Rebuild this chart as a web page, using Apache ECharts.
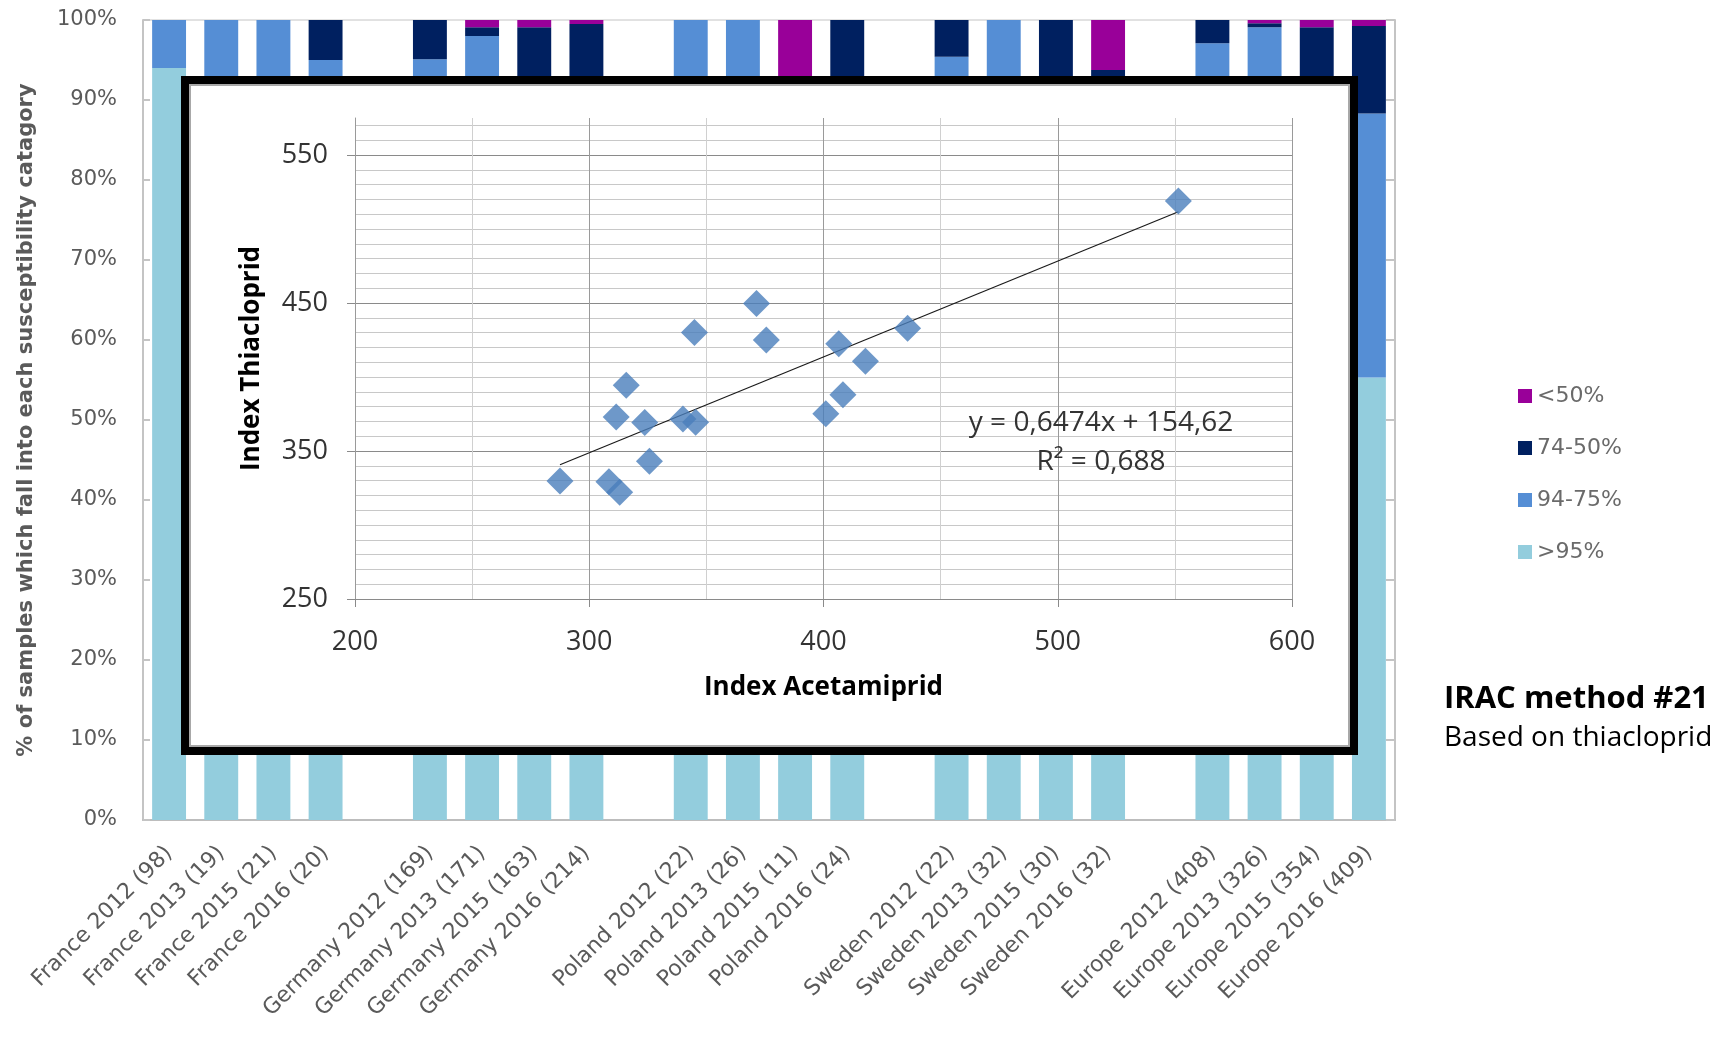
<!DOCTYPE html>
<html>
<head>
<meta charset="utf-8">
<script src="https://cdn.jsdelivr.net/npm/echarts@6/dist/echarts.min.js"></script>
<style>
  html, body { margin: 0; padding: 0; background: #ffffff; }
  #chart { width: 1727px; height: 1038px; }
</style>
</head>
<body>
<div id="chart"></div>
<script>
// Susceptibility categories per country / year (share of samples, %)
const categories = [
  'France 2012 (98)', 'France 2013 (19)', 'France 2015 (21)', 'France 2016 (20)', ' ',
  'Germany 2012 (169)', 'Germany 2013 (171)', 'Germany 2015 (163)', 'Germany 2016 (214)', '  ',
  'Poland 2012 (22)', 'Poland 2013 (26)', 'Poland 2015 (11)', 'Poland 2016 (24)', '   ',
  'Sweden 2012 (22)', 'Sweden 2013 (32)', 'Sweden 2015 (30)', 'Sweden 2016 (32)', '    ',
  'Europe 2012 (408)', 'Europe 2013 (326)', 'Europe 2015 (354)', 'Europe 2016 (409)'
];
const over95 =    [94, 79, 81, 75, null, 78, 72, 60, 45, null, 68, 65, 45.5, 50, null, 72.7, 75, 60, 50, null, 75, 74, 60, 55.3];
const from94to75 = [6, 21, 19, 20, null, 17.1, 26, 25, 30, null, 32, 35, 27.3, 29, null, 22.7, 25, 26.7, 25, null, 22.1, 25.1, 25, 33];
const from74to50 = [0, 0, 0, 5, null, 4.9, 1.1, 14.1, 24.5, null, 0, 0, 18.1, 21, null, 4.6, 0, 13.3, 18.75, null, 2.9, 0.5, 14.1, 10.95];
const under50 =    [0, 0, 0, 0, null, 0, 0.9, 0.9, 0.5, null, 0, 0, 9.1, 0, null, 0, 0, 0, 6.25, null, 0, 0.4, 0.9, 0.75];

// Resistance index: acetamiprid vs thiacloprid
const indexAcetamiprid = [287.5, 308.4, 313.0, 325.7, 311.5, 315.8, 323.7, 340.0, 345.4, 344.9, 371.4, 375.6, 406.5, 417.9, 408.3, 401.0, 435.9, 551.5];
const indexThiacloprid = [329.8, 329.3, 322.1, 343.1, 372.9, 394.5, 369.2, 371.6, 369.4, 430.1, 449.6, 425.0, 422.5, 410.7, 388.0, 375.2, 433.0, 519.0];
const xTicks = [200, 300, 400, 500, 600];
const yTicks = [250, 350, 450, 550];
// Linear trend line, as stated in its label
const trendSlope = 0.6474;
const trendIntercept = 154.62;
const trendR2 = 0.688;

const fmt = (v, d) => v.toFixed(d).replace('.', ',');

const colors = {
  over95: '#93CDDD',
  from94to75: '#558ED5',
  from74to50: '#002060',
  under50: '#990099'
};

const scatterData = indexAcetamiprid.map((x, i) => [x, indexThiacloprid[i]]);
const xMin = Math.min(...indexAcetamiprid);
const xMax = Math.max(...indexAcetamiprid);
const trendData = [[xMin, trendSlope * xMin + trendIntercept], [xMax, trendSlope * xMax + trendIntercept]];

const labelFont = 'DejaVu Sans';
const insetFont = 'Open Sans';

function barSeries(name, data, color) {
  return {
    name: name, type: 'bar', stack: 'share', data: data,
    xAxisIndex: 0, yAxisIndex: 0,
    barCategoryGap: '35%',
    itemStyle: { color: color },
    z: 2
  };
}

const chart = echarts.init(document.getElementById('chart'), null, { renderer: 'canvas' });

// every 10th horizontal line (250, 350, ...) is a major line
const hLines = ['#8a8a8a', '#c8c8c8', '#c8c8c8', '#c8c8c8', '#c8c8c8', '#c8c8c8', '#c8c8c8', '#c8c8c8', '#c8c8c8', '#c8c8c8'];

chart.setOption({
  animation: false,
  backgroundColor: '#ffffff',
  grid: [
    { left: 143, right: 332, top: 20, bottom: 218, containLabel: false, outerBoundsMode: 'none',
      show: true, borderColor: '#c4c4c4', borderWidth: 1, backgroundColor: 'transparent' },
    { left: 355, right: 435, top: 118, bottom: 439, containLabel: false, outerBoundsMode: 'none', show: false }
  ],
  legend: {
    data: ['<50%', '74-50%', '94-75%', '>95%'],
    orient: 'vertical',
    left: 1513, top: 380,
    itemWidth: 14, itemHeight: 14, itemGap: 30,
    icon: 'rect',
    textStyle: { fontFamily: labelFont, fontSize: 22, color: '#6a6a6a' }
  },
  xAxis: [
    {
      type: 'category', gridIndex: 0, data: categories,
      axisLine: { show: true, lineStyle: { color: '#bdbdbd', width: 2 } },
      axisTick: { show: false },
      axisLabel: { rotate: 45, interval: 0, margin: 30, fontFamily: labelFont, fontSize: 22, color: '#5a5a5a' },
      splitLine: { show: false }
    },
    // inset x: grid lines every 50
    {
      type: 'value', gridIndex: 1, min: 200, max: 600, interval: 50,
      z: 10,
      axisLine: { show: true, lineStyle: { color: '#8a8a8a', width: 1 } },
      axisTick: { show: false },
      axisLabel: { show: false },
      splitLine: { show: true, lineStyle: { color: ['#9a9a9a', '#d0d0d0'], width: 1 } }
    },
    // inset x: labels and ticks every 100
    {
      type: 'value', gridIndex: 1, min: 200, max: 600, interval: 100, position: 'bottom',
      z: 10,
      name: 'Index Acetamiprid', nameLocation: 'middle', nameGap: 76,
      nameTextStyle: { fontFamily: insetFont, fontWeight: 'bold', fontSize: 26, color: '#000000' },
      axisLine: { show: false },
      axisTick: { show: true, length: 8, customValues: xTicks, lineStyle: { color: '#8a8a8a' } },
      axisLabel: { customValues: xTicks, margin: 30, fontFamily: insetFont, fontSize: 27, color: '#333333' },
      splitLine: { show: false }
    }
  ],
  yAxis: [
    {
      type: 'value', gridIndex: 0, min: 0, max: 100, interval: 10, position: 'left',
      name: '% of samples which fall into each susceptibility catagory',
      nameLocation: 'middle', nameGap: 106,
      nameTextStyle: { fontFamily: labelFont, fontWeight: 'bold', fontSize: 21, color: '#5a5a5a' },
      axisLine: { show: true, lineStyle: { color: '#c4c4c4', width: 2 } },
      axisTick: { show: true, inside: true, length: 7, lineStyle: { color: '#c4c4c4', width: 2 } },
      axisLabel: { formatter: '{value}%', margin: 26, fontFamily: labelFont, fontSize: 21, color: '#5a5a5a' },
      splitLine: { show: false }
    },
    {
      type: 'value', gridIndex: 0, min: 0, max: 100, interval: 10, position: 'right',
      axisLine: { show: true, lineStyle: { color: '#c4c4c4', width: 2 } },
      axisTick: { show: true, inside: true, length: 9, lineStyle: { color: '#c4c4c4', width: 2 } },
      axisLabel: { show: false },
      splitLine: { show: false }
    },
    // inset y: grid lines every 10
    {
      type: 'value', gridIndex: 1, min: 250, max: 575, interval: 10, position: 'left',
      z: 10,
      axisLine: { show: true, lineStyle: { color: '#9a9a9a', width: 1 } },
      axisTick: { show: false },
      axisLabel: { show: false },
      splitLine: { show: true, showMaxLine: false, lineStyle: { color: hLines, width: 1 } }
    },
    // inset y: labels and ticks every 100
    {
      type: 'value', gridIndex: 1, min: 250, max: 575, interval: 100, position: 'left',
      z: 10,
      name: 'Index Thiacloprid', nameLocation: 'middle', nameGap: 90,
      nameTextStyle: { fontFamily: insetFont, fontWeight: 'bold', fontSize: 26, color: '#000000' },
      axisLine: { show: false },
      axisTick: { show: true, length: 8, customValues: yTicks, lineStyle: { color: '#8a8a8a' } },
      axisLabel: { customValues: yTicks, margin: 27, fontFamily: insetFont, fontSize: 27, color: '#333333' },
      splitLine: { show: false }
    }
  ],
  graphic: [
    // framed inset panel over the bar chart
    { type: 'rect', z: 5, shape: { x: 185, y: 80, width: 1169, height: 671 },
      style: { fill: '#ffffff', stroke: '#000000', lineWidth: 8 } },
    { type: 'rect', z: 6, shape: { x: 190, y: 85, width: 1159, height: 661 },
      style: { fill: 'none', stroke: '#a8a8a8', lineWidth: 2 } },
    { type: 'text', z: 12, x: 1101, y: 423,
      style: { text: 'y = ' + fmt(trendSlope, 4) + 'x + ' + fmt(trendIntercept, 2), align: 'center', verticalAlign: 'middle',
               fontFamily: insetFont, fontSize: 28, fill: '#333333' } },
    { type: 'text', z: 12, x: 1101, y: 462,
      style: { text: 'R² = ' + fmt(trendR2, 3), align: 'center', verticalAlign: 'middle',
               fontFamily: insetFont, fontSize: 28, fill: '#333333' } },
    { type: 'text', z: 12, x: 1444, y: 699,
      style: { text: 'IRAC method #21', align: 'left', verticalAlign: 'middle',
               fontFamily: insetFont, fontWeight: 'bold', fontSize: 31, fill: '#000000' } },
    { type: 'text', z: 12, x: 1444, y: 738,
      style: { text: 'Based on thiacloprid', align: 'left', verticalAlign: 'middle',
               fontFamily: insetFont, fontSize: 28, fill: '#000000' } }
  ],
  series: [
    barSeries('>95%', over95, colors.over95),
    barSeries('94-75%', from94to75, colors.from94to75),
    barSeries('74-50%', from74to50, colors.from74to50),
    barSeries('<50%', under50, colors.under50),
    {
      name: 'Trend', type: 'line', xAxisIndex: 1, yAxisIndex: 2,
      data: trendData, symbol: 'none', z: 11,
      lineStyle: { color: '#1a1a1a', width: 1.2 }
    },
    {
      name: 'Index', type: 'scatter', xAxisIndex: 1, yAxisIndex: 2,
      data: scatterData, symbol: 'diamond', symbolSize: 27, z: 12,
      itemStyle: { color: '#4A7EBB' }
    }
  ]
});
</script>
</body>
</html>
